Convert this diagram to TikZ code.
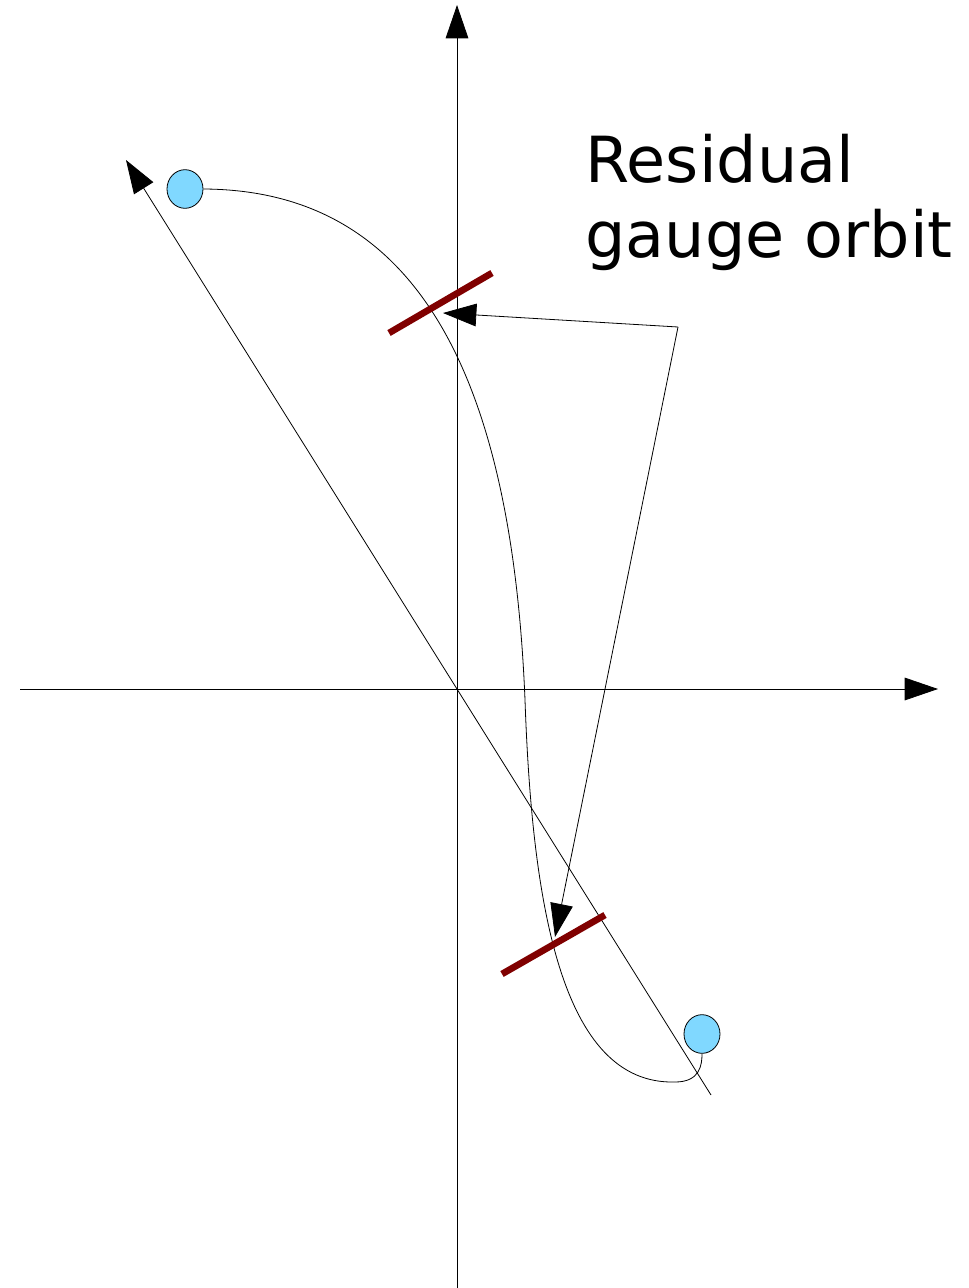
\documentclass[tikz,border=0pt]{standalone}
\usepackage{fontspec}
\setmainfont{DejaVu Sans}
\usetikzlibrary{shapes.geometric, arrows.meta, positioning}
\definecolor{DarkRed}{HTML}{800000}
\definecolor{LightCyan}{HTML}{80D8FF}

\begin{document}
\begin{tikzpicture}[x=0.75pt, y=-0.75pt, line width=0.6pt, >={Triangle[length=25pt, width=17pt]},
  point/.style={draw, ellipse, fill=LightCyan, inner sep=0pt, minimum width=27pt, minimum height=29pt},
  slice/.style={draw=DarkRed, line width=5pt}]
  \useasboundingbox (0,0) rectangle (969,1288);
  % axes
  \coordinate (xstart) at (20,689);
  \coordinate (xend) at (938,689);
  \coordinate (ystart) at (457,1288);
  \coordinate (yend) at (457,5);
  \draw[->] (xstart) -- (xend);
  \draw[->] (ystart) -- (yend);
  % diagonal direction
  \coordinate (dstart) at (711,1095);
  \coordinate (dend) at (126,160);
  \draw[->] (dstart) -- (dend);
  % endpoints of the orbit
  \node[point] (start) at (185,189) {};
  \node[point] (finish) at (702,1034) {};
  \draw (start.east) .. controls (390,190) and (510,330) .. (525,700)
        .. controls (532,900) and (560,1085) .. (675,1082)
        .. controls (700,1082) and (702,1065) .. (finish.south);
  % gauge slices
  \coordinate (s1a) at (389,333);
  \coordinate (s1b) at (492,273);
  \coordinate (s2a) at (502,974);
  \coordinate (s2b) at (605,915);
  \draw[slice] (s1a) -- (s1b);
  \draw[slice] (s2a) -- (s2b);
  % label and pointers
  \node[anchor=north west, align=left, inner sep=0pt, font=\fontsize{47.7}{56}\selectfont] (label) at (585,134) {Residual\\gauge orbit};
  \coordinate (bend) at (678,327);
  \coordinate (hit1) at (443,313);
  \coordinate (hit2) at (555,937);
  \draw[->] (bend) -- (hit1);
  \draw[->] (bend) -- (hit2);
\end{tikzpicture}
\end{document}
